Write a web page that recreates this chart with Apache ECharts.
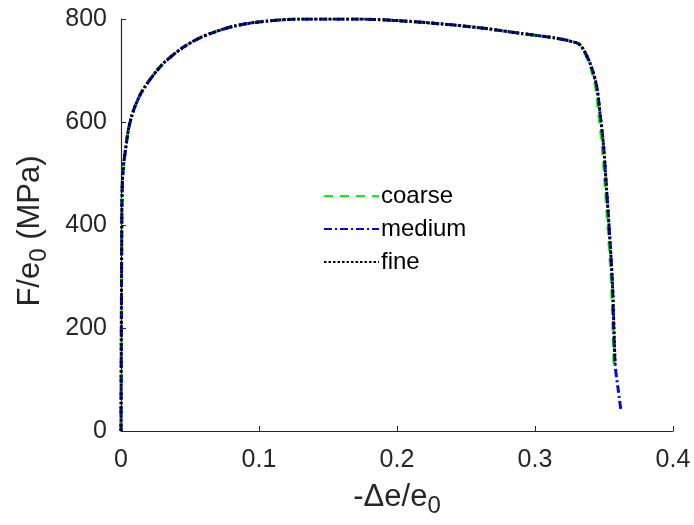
<!DOCTYPE html>
<html>
<head>
<meta charset="utf-8">
<script src="https://cdn.jsdelivr.net/npm/echarts@6/dist/echarts.min.js"></script>
<style>
html,body{margin:0;padding:0;background:#fff;}
#c{width:694px;height:525px;}
</style>
</head>
<body>
<div id="c"></div>
<script>
// Data
var seriesNames = ['coarse', 'medium', 'fine'];
var xTicks = [0, 0.1, 0.2, 0.3, 0.4];
var yTicks = [0, 200, 400, 600, 800];

var coarseX = [0, 0.0006, 0.001, 0.0017, 0.0029, 0.0053, 0.0075, 0.0101, 0.0145, 0.0198, 0.0255, 0.0319, 0.044, 0.056, 0.0681, 0.0802, 0.0935, 0.11, 0.13, 0.15, 0.17, 0.2, 0.23, 0.26, 0.29, 0.3043, 0.315, 0.3254, 0.3324, 0.3393, 0.3438, 0.3461, 0.3485, 0.3510, 0.3535, 0.3555, 0.3573];
var coarseY = [0, 420, 485, 513, 539, 584, 609, 630, 656, 678, 698, 717, 743, 762, 775, 785, 792, 797, 800, 800, 800, 797, 791, 783, 772, 767, 763, 757, 750, 714, 669, 617, 559, 468, 371, 280, 120];

var mediumX = [0, 0.0006, 0.001, 0.0017, 0.0029, 0.0053, 0.0075, 0.0101, 0.0145, 0.0198, 0.0255, 0.0319, 0.044, 0.056, 0.0681, 0.0802, 0.0935, 0.11, 0.13, 0.15, 0.17, 0.2, 0.23, 0.26, 0.29, 0.3043, 0.315, 0.3254, 0.3326, 0.3399, 0.3447, 0.3471, 0.3495, 0.3519, 0.3543, 0.3562, 0.358, 0.3603, 0.3622];
var mediumY = [0, 420, 485, 513, 539, 584, 609, 630, 656, 678, 698, 717, 743, 762, 775, 785, 792, 797, 800, 800, 800, 797, 791, 783, 772, 767, 763, 757, 750, 714, 669, 617, 559, 468, 371, 280, 131, 80, 41];

var fineX = [0, 0.0006, 0.001, 0.0017, 0.0029, 0.0053, 0.0075, 0.0101, 0.0145, 0.0198, 0.0255, 0.0319, 0.044, 0.056, 0.0681, 0.0802, 0.0935, 0.11, 0.13, 0.15, 0.17, 0.2, 0.23, 0.26, 0.29, 0.3043, 0.315, 0.3254, 0.3326, 0.3399, 0.3447, 0.3471, 0.3495, 0.3519, 0.3543, 0.3562, 0.358];
var fineY = [0, 420, 485, 513, 539, 584, 609, 630, 656, 678, 698, 717, 743, 762, 775, 785, 792, 797, 800, 800, 800, 797, 791, 783, 772, 767, 763, 757, 750, 714, 669, 617, 559, 468, 371, 280, 130];

var seriesColors = ['#00ff00', '#0000ff', '#000000'];

function pairs(xs, ys) {
  return xs.map(function (x, i) { return [x, ys[i]]; });
}

var axisColor = '#262626';
var font = 'Arial, "Liberation Sans", Helvetica, sans-serif';

var chart = echarts.init(document.getElementById('c'), null, {renderer: 'canvas'});
chart.setOption({
  animation: false,
  backgroundColor: '#fff',
  color: seriesColors,
  grid: {left: 121, right: 21, top: 19, bottom: 94, containLabel: false},
  legend: {
    orient: 'vertical',
    left: 318, top: 179,
    itemWidth: 55, itemHeight: 14, itemGap: 9,
    itemStyle: {opacity: 0},
    textStyle: {fontSize: 24, color: '#000', fontFamily: font, padding: [0, 0, 0, -3]},
    data: seriesNames
  },
  xAxis: {
    type: 'value', min: xTicks[0], max: xTicks[xTicks.length - 1], interval: 0.1,
    axisLine: {lineStyle: {color: axisColor, width: 1.2}},
    axisTick: {inside: true, length: 5, lineStyle: {color: axisColor}},
    splitLine: {show: false},
    axisLabel: {fontSize: 25, color: axisColor, fontFamily: font, margin: 17},
    name: '-Δe/e{s|0}', nameLocation: 'middle', nameGap: 45,
    nameTextStyle: {fontSize: 31, color: axisColor, fontFamily: font,
      rich: {s: {fontSize: 24, color: axisColor, fontFamily: font, verticalAlign: 'bottom', padding: [18, 0, 0, 0]}}}
  },
  yAxis: {
    type: 'value', min: yTicks[0], max: yTicks[yTicks.length - 1], interval: 200,
    axisLine: {show: true, lineStyle: {color: axisColor, width: 1.2}},
    axisTick: {show: true, inside: true, length: 5, lineStyle: {color: axisColor}},
    splitLine: {show: false},
    axisLabel: {fontSize: 25, color: axisColor, fontFamily: font, margin: 14},
    name: 'F/e{s|0} (MPa)', nameLocation: 'middle', nameGap: 70,
    nameTextStyle: {fontSize: 31, color: axisColor, fontFamily: font, padding: [0, 12, 0, 0],
      rich: {s: {fontSize: 24, color: axisColor, fontFamily: font, verticalAlign: 'bottom', padding: [18, 0, 0, 0]}}}
  },
  series: [
    {name: 'coarse', type: 'line', data: pairs(coarseX, coarseY), showSymbol: false, symbol: 'none', smooth: 0.3,
      itemStyle: {color: seriesColors[0]},
      lineStyle: {color: seriesColors[0], width: 3, type: [9, 7]}, z: 1},
    {name: 'medium', type: 'line', data: pairs(mediumX, mediumY), showSymbol: false, symbol: 'none', smooth: 0.3,
      itemStyle: {color: seriesColors[1]},
      lineStyle: {color: seriesColors[1], width: 3, type: [8, 3, 2, 3]}, z: 2},
    {name: 'fine', type: 'line', data: pairs(fineX, fineY), showSymbol: false, symbol: 'none', smooth: 0.3,
      itemStyle: {color: seriesColors[2]},
      lineStyle: {color: seriesColors[2], width: 3, type: [2.5, 2]}, z: 3}
  ]
});
</script>
</body>
</html>
